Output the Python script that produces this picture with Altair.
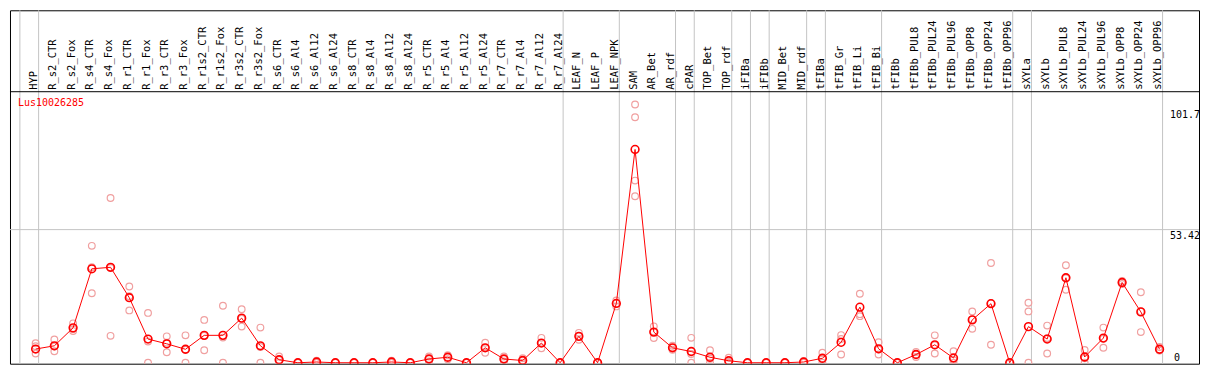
import altair as alt
import pandas as pd

gene = "Lus10026285"

names = ["HYP", "R_s2_CTR", "R_s2_Fox", "R_s4_CTR", "R_s4_Fox", "R_r1_CTR", "R_r1_Fox",
         "R_r3_CTR", "R_r3_Fox", "R_r1s2_CTR", "R_r1s2_Fox", "R_r3s2_CTR", "R_r3s2_Fox",
         "R_s6_CTR", "R_s6_Al4", "R_s6_Al12", "R_s6_Al24", "R_s8_CTR", "R_s8_Al4",
         "R_s8_Al12", "R_s8_Al24", "R_r5_CTR", "R_r5_Al4", "R_r5_Al12", "R_r5_Al24",
         "R_r7_CTR", "R_r7_Al4", "R_r7_Al12", "R_r7_Al24", "LEAF_N", "LEAF_P", "LEAF_NPK",
         "SAM", "AR_Bet", "AR_rdf", "cPAR", "TOP_Bet", "TOP_rdf", "iFIBa", "iFIBb",
         "MID_Bet", "MID_rdf", "tFIBa", "tFIB_Gr", "tFIB_Li", "tFIB_Bi", "tFIBb",
         "tFIBb_PUL8", "tFIBb_PUL24", "tFIBb_PUL96", "tFIBb_OPP8", "tFIBb_OPP24",
         "tFIBb_OPP96", "sXYLa", "sXYLb", "sXYLb_PUL8", "sXYLb_PUL24", "sXYLb_PUL96",
         "sXYLb_OPP8", "sXYLb_OPP24", "sXYLb_OPP96"]

means = [5.5, 6.8, 14.0, 37.7, 38.3, 26.1, 9.5, 7.6, 5.4, 11.0, 11.0, 17.9, 6.8,
         1.2, 0, 0.3, 0, 0, 0, 0.3, 0, 1.5, 2.2, 0, 6.0, 1.5, 0.9, 7.9, 0, 10.6, 0, 23.8,
         85.6, 12.3, 6.0, 4.5, 2.2, 0.8, 0, 0, 0, 0.3, 1.8, 8.2, 22.3, 5.6, 0,
         3.3, 7.2, 1.9, 17.2, 23.7, 0, 14.5, 9.5, 34.1, 2.3, 9.9, 32.2, 20.4, 5.4]

reps = [[7.8, 6.6, 3.7], [9.3, 6.5, 4.6], [15.8, 13.5, 12.7], [46.9, 38.3, 27.9],
        [66.1, 38.0, 10.8], [30.6, 26.7, 21.0], [20.0, 8.5, 0], [10.6, 8.0, 4.2],
        [11.0, 5.2, 0], [17.2, 10.8, 5.0], [22.9, 10.1, 0], [21.5, 17.7, 14.5],
        [14.1, 6.3, 0], [2.5, 1.1, 0], [0, 0], [0.8, 0, 0], [0, 0], [0, 0], [0, 0],
        [0.8, 0, 0], [0, 0], [2.5, 1.5, 0.5], [3.0, 2.2, 1.4], [0, 0], [8.0, 6.0, 4.0],
        [2.5, 1.5, 0.5], [1.8, 0.9, 0], [10.0, 7.9, 5.8], [0, 0], [12.0, 10.6, 9.2],
        [0, 0], [25.0, 23.8, 22.6], [103.6, 98.5, 73.1, 66.8], [14.6, 12.4, 9.9],
        [6.8, 6.0, 5.2], [10.0, 3.5, 0], [5.0, 1.6, 0], [2.0, 0.4, 0], [0, 0], [0, 0],
        [0, 0], [0.6, 0.3, 0], [4.0, 1.4, 0], [11.1, 9.5, 3.3], [27.7, 19.5, 18.7],
        [8.2, 5.3, 3.3], [0, 0], [4.3, 3.3, 2.3], [11.0, 7.0, 3.7], [4.6, 1.1, 0],
        [20.6, 17.4, 13.6], [40.0, 23.9, 7.2], [0, 0], [24.1, 20.6, 0],
        [14.9, 9.9, 3.7], [39.1, 33.9, 29.3], [5.1, 1.8, 0], [14.1, 9.6, 6.0],
        [32.8, 32.2, 31.6], [28.3, 20.6, 12.3], [6.3, 5.0, 4.9]]

group_ends = ["HYP", "R_r7_Al24", "LEAF_NPK", "AR_rdf", "cPAR", "TOP_rdf", "iFIBa",
              "iFIBb", "MID_rdf", "tFIBa", "tFIB_Bi", "tFIBb_OPP96", "sXYLa", "sXYLb_OPP96"]

tick_values = [0, 53.42, 101.7]
tick_labels = ["0", "53.42", "101.7"]
grid_values = [53.42]

# ---- layout ----
W, H = 1191, 354
REF_W, REF_H = 1206, 369
sx, sy = W / REF_W, H / REF_H
FONT = "DejaVu Sans Mono"
SEP_OFF = 0.16

mean_df = pd.DataFrame({"idx": list(range(len(names))), "name": names, "value": means})
rep_df = pd.DataFrame([{"idx": i, "value": v} for i, vals in enumerate(reps) for v in vals])
sep_df = pd.DataFrame({"pos": [-1 + SEP_OFF] + [names.index(n) + SEP_OFF for n in group_ends]})
grid_df = pd.DataFrame({"v": grid_values})
tick_df = pd.DataFrame({"v": tick_values, "label": tick_labels})
one_df = pd.DataFrame({"a": [0]})
title_df = pd.DataFrame({"t": [gene]})

xs = alt.Scale(domain=[-1.368, 62.105], nice=False, zero=False)
ys = alt.Scale(domain=[-0.384, 141.43], nice=False, zero=False)

seps = alt.Chart(sep_df).mark_rule(color="#c4c4c4", strokeWidth=1).encode(
    x=alt.X("pos:Q", scale=xs, axis=None), y=alt.value(0), y2=alt.value(H))

grid = alt.Chart(grid_df).mark_rule(color="#c4c4c4", strokeWidth=1).encode(
    y=alt.Y("v:Q", scale=ys, axis=None), x=alt.value(0), x2=alt.value(W))

header = alt.Chart(one_df).mark_rule(color="black", strokeWidth=1).encode(
    y=alt.value(85 * sy), x=alt.value(0), x2=alt.value(W))

labels = alt.Chart(mean_df).mark_text(
    angle=270, align="left", baseline="middle", font=FONT, fontSize=10.5,
    color="black", dy=-1.5).encode(
    x=alt.X("idx:Q", scale=xs, axis=None), y=alt.value(83 * sy), text="name:N")

title = alt.Chart(title_df).mark_text(
    align="left", baseline="middle", font=FONT, fontSize=10, color="red").encode(
    x=alt.value(8 * sx), y=alt.value(97 * sy), text="t:N")

rep_pts = alt.Chart(rep_df).mark_point(
    shape="circle", filled=False, color="#f0a0a0", size=45, strokeWidth=1.2,
    opacity=1, clip=True).encode(
    x=alt.X("idx:Q", scale=xs, axis=None), y=alt.Y("value:Q", scale=ys, axis=None))

line = alt.Chart(mean_df).mark_line(color="red", strokeWidth=1, clip=True).encode(
    x=alt.X("idx:Q", scale=xs, axis=None), y=alt.Y("value:Q", scale=ys, axis=None))

mean_pts = alt.Chart(mean_df).mark_point(
    shape="circle", filled=False, color="red", size=60, strokeWidth=1.6,
    opacity=1, clip=True).encode(
    x=alt.X("idx:Q", scale=xs, axis=None), y=alt.Y("value:Q", scale=ys, axis=None))

tick_x = (1177.5 - 1) * sx
ticks_top = alt.Chart(tick_df).transform_filter("datum.v > 0").mark_text(
    align="left", baseline="top", font=FONT, fontSize=10, color="black", dy=1).encode(
    x=alt.value(tick_x), y=alt.Y("v:Q", scale=ys, axis=None), text="label:N")
ticks_zero = alt.Chart(tick_df).transform_filter("datum.v == 0").mark_text(
    align="left", baseline="bottom", font=FONT, fontSize=10, color="black", dy=-1).encode(
    x=alt.value(tick_x + 4), y=alt.value(H), text="label:N")

chart = alt.layer(
    seps, grid, header, labels, title, rep_pts, line, mean_pts, ticks_top, ticks_zero
).properties(width=W, height=H, padding=1, background="white").configure_view(
    stroke="black", strokeWidth=1)

chart.save("out.html", embed_options={"renderer": "svg", "actions": False})
